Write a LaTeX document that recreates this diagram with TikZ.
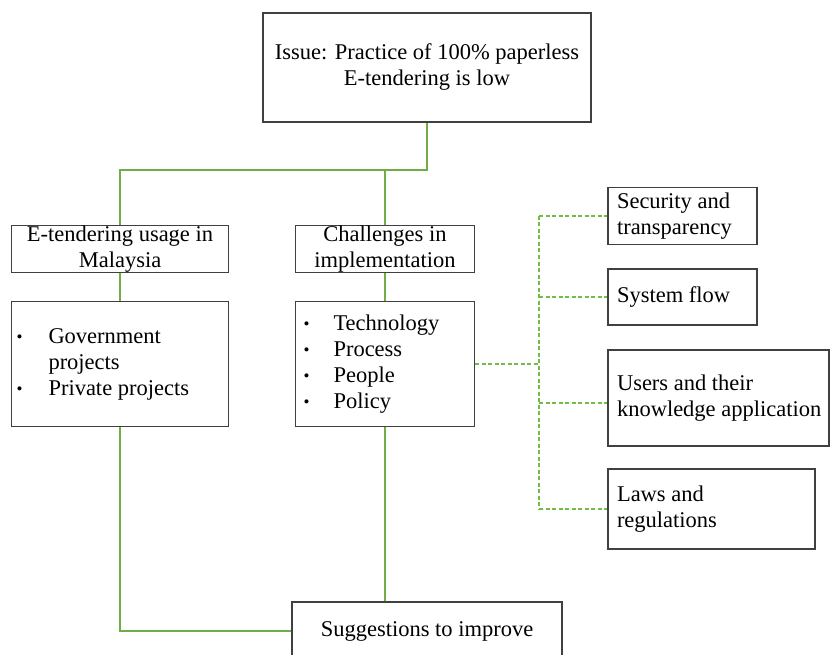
\documentclass[tikz,border=0pt]{standalone}
\usepackage{fontspec}
\setmainfont{Liberation Serif}
\definecolor{gline}{RGB}{112,173,71}
\definecolor{dline}{RGB}{112,190,70}
\definecolor{boxgray}{RGB}{64,64,64}
\newcommand{\smbul}{\raisebox{0.1ex}{\fontsize{17}{17}\selectfont\textbullet}}
\begin{document}
\begin{tikzpicture}[x=1pt,y=-1pt,
  box/.style={draw=boxgray, line width=1.1pt, inner sep=0pt, fill=white,
    font=\fontsize{22.5}{26}\selectfont},
  cbox/.style={box, align=center},
  lbox/.style={box, inner xsep=9pt},
  solidline/.style={draw=gline, line width=2pt},
  dashline/.style={draw=dline, line width=1.1pt, dash pattern=on 4pt off 2.5pt}]
\useasboundingbox (0,0) rectangle (830,655);
% nodes
\node[cbox, minimum width=328pt, minimum height=109pt] (top) at (427,67.5)
  {Issue: Practice of 100\% paperless\\E-tendering is low};
\node[cbox, minimum width=217pt, minimum height=46pt] (b1) at (120,249)
  {E-tendering usage in\\Malaysia};
\node[cbox, minimum width=179pt, minimum height=46pt] (b2) at (385,249)
  {Challenges in\\implementation};
\node[box, inner xsep=5pt, minimum width=217pt, minimum height=125pt] (l1) at (120,364)
  {\makebox[207pt][l]{\begin{tabular}{@{}p{32pt}@{}l@{}}
   \smbul & Government\\ & projects\\ \smbul & Private projects\end{tabular}}};
\node[box, inner xsep=8pt, minimum width=179pt, minimum height=125pt] (l2) at (385,364)
  {\makebox[163pt][l]{\begin{tabular}{@{}p{30pt}@{}l@{}}
   \smbul & Technology\\ \smbul & Process\\ \smbul & People\\ \smbul & Policy\end{tabular}}};
\node[lbox, minimum width=149pt, minimum height=57pt] (s1) at (682.5,216)
  {\makebox[131pt][l]{\begin{tabular}{@{}l@{}}Security and\\transparency\end{tabular}}};
\node[lbox, minimum width=149pt, minimum height=56pt] (s2) at (682.5,297)
  {\makebox[131pt][l]{\begin{tabular}{@{}l@{}}System flow\end{tabular}}};
\node[lbox, minimum width=221pt, minimum height=96pt] (s3) at (718.5,398)
  {\makebox[203pt][l]{\begin{tabular}{@{}l@{}}Users and their\\knowledge application\end{tabular}}};
\node[lbox, minimum width=207pt, minimum height=80pt] (s4) at (711.5,509)
  {\makebox[189pt][l]{\begin{tabular}{@{}l@{}}Laws and\\regulations\end{tabular}}};
\node[cbox, minimum width=270pt, minimum height=58pt] (sg) at (427,631)
  {Suggestions to improve};
% junctions
\coordinate (j1) at (427,170);
\coordinate (jd) at (539,364);
% solid connectors
\draw[solidline] (top.south) -- (j1) -| (b1.north);
\draw[solidline] (j1 -| b2.north) -- (b2.north);
\draw[solidline] (b1.south) -- (l1.north);
\draw[solidline] (b2.south) -- (l2.north);
\draw[solidline] (l1.south) |- (sg.west);
\draw[solidline] (l2.south) -- (l2.south |- sg.north);
% dashed connectors
\draw[dashline] (l2.east) -- (jd);
\draw[dashline] (jd |- s1.west) -- (jd |- s4.west);
\draw[dashline] (jd |- s1.west) -- (s1.west);
\draw[dashline] (jd |- s2.west) -- (s2.west);
\draw[dashline] ([yshift=-5pt]s3.west -| jd) -- ([yshift=-5pt]s3.west);
\draw[dashline] (jd |- s4.west) -- (s4.west);
\end{tikzpicture}
\end{document}
